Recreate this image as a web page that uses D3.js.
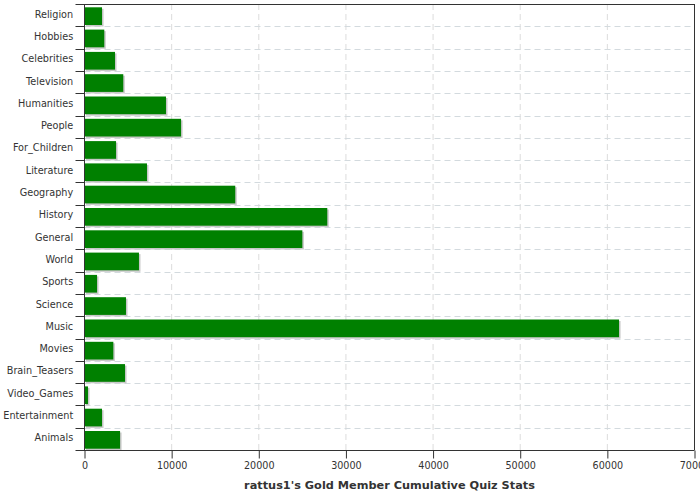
<!DOCTYPE html>
<html><head><meta charset="utf-8">
<script src="https://cdn.jsdelivr.net/npm/d3@7"></script>
<style>body{margin:0;background:#fff}svg{display:block;font-family:"DejaVu Sans",sans-serif}</style>
</head><body><svg id="c" width="700" height="500"></svg>
<script>
const categories = ["Religion","Hobbies","Celebrities","Television","Humanities","People","For_Children","Literature","Geography","History","General","World","Sports","Science","Music","Movies","Brain_Teasers","Video_Games","Entertainment","Animals"];
const values = [2010,2270,3500,4450,9350,11080,3620,7170,17300,27860,25000,6250,1440,4760,61340,3310,4650,400,2010,4080];
const xTicks = [0,10000,20000,30000,40000,50000,60000,70000];
const title = "rattus1's Gold Member Cumulative Quiz Stats";

const svg = d3.select("#c");
const L = 84.5, R = 694.5, T = 4, B = 450;
const x = d3.scaleLinear().domain([0,70000]).range([L,R]);
const y = d3.scaleBand().domain(categories).range([T,B]).padding(0);
const bw = y.bandwidth();

// vertical grid
svg.append("g").selectAll("line").data(xTicks.slice(1,-1)).join("line")
  .attr("x1",d=>x(d)).attr("x2",d=>x(d)).attr("y1",T).attr("y2",B)
  .attr("stroke","#dcdcdc").attr("stroke-dasharray","6,4");
// horizontal grid
svg.append("g").selectAll("line").data(categories.slice(1)).join("line")
  .attr("x1",L).attr("x2",R).attr("y1",d=>Math.round(y(d))+0.5).attr("y2",d=>Math.round(y(d))+0.5)
  .attr("stroke","#d3dade").attr("stroke-dasharray","6,4");

// bars
const data = categories.map((c,i)=>({c,v:values[i]}));
svg.append("g").selectAll("rect").data(data).join("rect")
  .attr("x",L+1.5).attr("y",d=>y(d.c)+3.3+1.5).attr("height",17.7)
  .attr("width",d=>x(d.v)-L).attr("fill","#c8c8c8");
svg.append("g").selectAll("rect").data(data).join("rect")
  .attr("x",L).attr("y",d=>y(d.c)+3.3).attr("height",17.7)
  .attr("width",d=>x(d.v)-L).attr("fill","#008000");

// border lines
const axc = "#333";
svg.append("line").attr("x1",L).attr("x2",L).attr("y1",T).attr("y2",B).attr("stroke",axc);
svg.append("line").attr("x1",R).attr("x2",R).attr("y1",T).attr("y2",B).attr("stroke",axc);
svg.append("line").attr("x1",L-9).attr("x2",R).attr("y1",T+0.5).attr("y2",T+0.5).attr("stroke",axc);
svg.append("line").attr("x1",L-9).attr("x2",R).attr("y1",B+0.5).attr("y2",B+0.5).attr("stroke",axc);
// left ticks at band boundaries
svg.append("g").selectAll("line").data(categories.slice(1)).join("line")
  .attr("x1",L-9).attr("x2",L).attr("y1",d=>Math.round(y(d))+0.5).attr("y2",d=>Math.round(y(d))+0.5)
  .attr("stroke",axc);
// category labels
svg.append("g").selectAll("text").data(categories).join("text")
  .attr("x",L-11.3).attr("y",d=>y(d)+bw/2+2.5)
  .attr("text-anchor","end").attr("font-size","9.7px").attr("fill","#333").text(d=>d);

// bottom axis
const xa = svg.append("g").attr("transform",`translate(0,${B+0.5})`)
  .call(d3.axisBottom(x).tickValues(xTicks).tickFormat(d3.format("d")).tickSize(8).tickSizeOuter(0));
xa.select(".domain").remove();
xa.selectAll("line").attr("stroke",axc);
xa.selectAll("text").attr("font-size","9.6px").attr("fill","#333").attr("font-family","DejaVu Sans")
  .attr("y",18.5).attr("dy",0);

svg.append("text").attr("x",(L+R)/2).attr("y",489).attr("text-anchor","middle")
  .attr("font-size","11.3px").attr("font-weight","bold").attr("fill","#333").text(title);
</script></body></html>
